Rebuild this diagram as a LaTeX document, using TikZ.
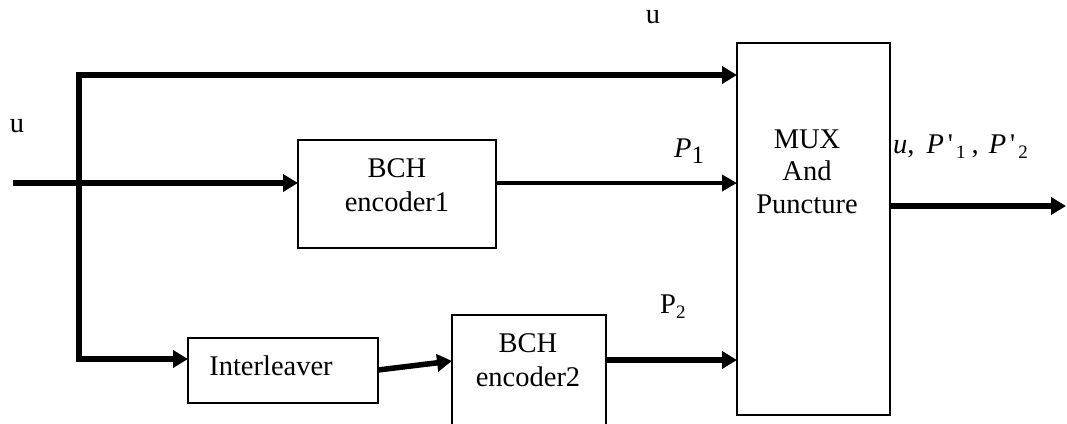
\documentclass[tikz,border=0pt]{standalone}
\usepackage{fontspec}
\setmainfont{Liberation Serif}
\usetikzlibrary{arrows.meta}
\newcommand{\subsm}[1]{\raisebox{-5pt}{\fontsize{19}{19}\selectfont #1}}
\newcommand{\subbig}[1]{\raisebox{-6pt}{\fontsize{25}{25}\selectfont #1}}
\newcommand{\primed}{\kern4pt\textquotesingle\kern3pt}
\begin{document}
\begin{tikzpicture}[x=1pt,y=-1pt,
  font=\fontsize{28.5}{34}\selectfont,
  block/.style={draw,line width=1.8pt,outer sep=0pt,inner sep=0pt,fill=none},
  txt/.style={anchor=base,inner sep=0pt},
  flow/.style={line width=5.5pt,line join=miter,-{Triangle[length=15pt,width=17pt]}},
  thinflow/.style={line width=3.5pt,-{Triangle[length=15pt,width=16pt]}}]
\useasboundingbox (0,0) rectangle (1067,423);
\clip (0,0) rectangle (1067,423);

% blocks
\node[block,minimum width=198pt,minimum height=108pt] (bch1) at (397,194) {};
\node[block,minimum width=190pt,minimum height=65pt] (ilv) at (283,370.5) {};
\node[block,minimum width=154pt,minimum height=130pt] (bch2) at (529,380) {};
\node[block,minimum width=153pt,minimum height=372pt] (mux) at (813.5,229) {};

% block texts
\node[txt] (bch1a) at (397,177) {BCH};
\node[txt] (bch1b) at (397,211) {encoder1};
\node[txt] (ilvt) at (271,375) {Interleaver};
\node[txt] (bch2a) at (528,352) {BCH};
\node[txt] (bch2b) at (528,386) {encoder2};
\node[txt] (muxa) at (807,148) {MUX};
\node[txt] (muxb) at (807,180.5) {And};
\node[txt] (muxc) at (807,213) {Puncture};

% signal labels
\node[txt] (uin) at (17,132) {u};
\node[txt] (utop) at (653,23) {u};
\node[txt,anchor=base west] (p1) at (674,157) {\textit{P}\subbig{1}};
\node[txt,anchor=base west] (p2) at (660,313) {P\subsm{2}};
\node[txt,anchor=base west] (outl) at (893,153)
  {\textit{u},\kern12pt\textit{P}\primed\subsm{1}\kern6pt,\kern10pt\textit{P}\primed\subsm{2}};

% junction points
\coordinate (src) at (13,183);
\coordinate (tl) at (79,75);
\coordinate (bl) at (79,359);
\coordinate (sink) at (1066,206);

% connectors
\draw[flow] (src) -- (bch1.west |- src);
\draw[flow] (bl) |- (mux.west |- tl);
\draw[flow] (tl) |- (ilv.west |- bl);
\draw[thinflow] (bch1.east |- src) -- (mux.west |- src);
\draw[flow] (ilv.east |- 0,370) -- (bch2.west |- 0,361);
\draw[flow] (bch2.east |- 0,360) -- (mux.west |- 0,360);
\draw[flow] (mux.east |- sink) -- (sink);
\end{tikzpicture}
\end{document}
